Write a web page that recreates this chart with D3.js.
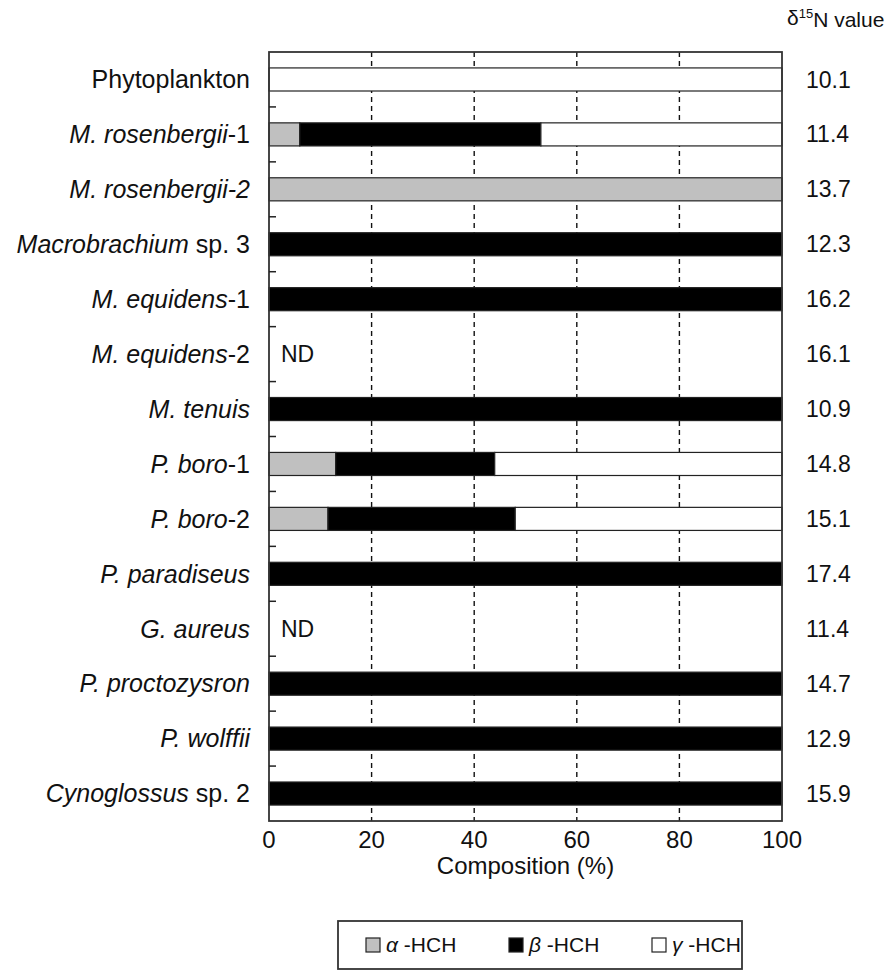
<!DOCTYPE html>
<html>
<head>
<meta charset="utf-8">
<script src="https://cdn.jsdelivr.net/npm/d3@7"></script>
<style>
  html, body { margin: 0; padding: 0; background: #fff; }
  svg { display: block; font-family: "Liberation Sans", Arial, sans-serif; fill: #111; }
</style>
</head>
<body>
<svg id="chart" width="885" height="979"></svg>
<script>
// Species (top to bottom) and how each one's label is set in type
const species = [
  "Phytoplankton", "M. rosenbergii-1", "M. rosenbergii-2", "Macrobrachium sp. 3",
  "M. equidens-1", "M. equidens-2", "M. tenuis", "P. boro-1", "P. boro-2",
  "P. paradiseus", "G. aureus", "P. proctozysron", "P. wolffii", "Cynoglossus sp. 2"
];
// label pieces: [italic part, upright part]
const labelParts = [
  ["", "Phytoplankton"], ["M. rosenbergii", "-1"], ["M. rosenbergii-2", ""],
  ["Macrobrachium", " sp. 3"], ["M. equidens", "-1"], ["M. equidens", "-2"],
  ["M. tenuis", ""], ["P. boro", "-1"], ["P. boro", "-2"], ["P. paradiseus", ""],
  ["G. aureus", ""], ["P. proctozysron", ""], ["P. wolffii", ""], ["Cynoglossus", " sp. 2"]
];

// HCH isomer composition (%), null = not detected
const alphaHCH = [0, 6, 100, 0, 0, null, 0, 13, 11.5, 0, null, 0, 0, 0];
const betaHCH  = [0, 47, 0, 100, 100, null, 100, 31, 36.5, 100, null, 100, 100, 100];
const gammaHCH = [100, 47, 0, 0, 0, null, 0, 56, 52, 0, null, 0, 0, 0];

// δ15N values for each species
const d15N = ["10.1", "11.4", "13.7", "12.3", "16.2", "16.1", "10.9", "14.8", "15.1", "17.4", "11.4", "14.7", "12.9", "15.9"];

const xTicks = [0, 20, 40, 60, 80, 100];
const isomers = ["α", "β", "γ"];
const isomerFill = ["#c0c0c0", "#000000", "#ffffff"];

const svg = d3.select("#chart");
const pL = 269, pR = 782, pT = 52, pB = 821;

const x = d3.scaleLinear().domain([0, 100]).range([pL, pR]);
const y = d3.scaleBand().domain(species).range([pT, pB])
  .paddingInner(0.58).paddingOuter(0.29);

// dashed vertical gridlines
svg.append("g").selectAll("line")
  .data(xTicks.filter(t => t > 0 && t < 100))
  .join("line")
  .attr("x1", d => x(d)).attr("x2", d => x(d))
  .attr("y1", pT).attr("y2", pB)
  .attr("stroke", "#111").attr("stroke-width", 1.4)
  .attr("stroke-dasharray", "5,4");

// stacked bars
const rows = species.map((s, i) => {
  if (alphaHCH[i] === null) return null;
  const vals = [alphaHCH[i], betaHCH[i], gammaHCH[i]];
  let acc = 0;
  return vals.map((v, k) => {
    const seg = { s, k, x0: acc, x1: acc + v };
    acc += v;
    return seg;
  }).filter(d => d.x1 > d.x0);
}).filter(r => r !== null).flat();

svg.append("g").selectAll("rect")
  .data(rows)
  .join("rect")
  .attr("x", d => x(d.x0))
  .attr("width", d => x(d.x1) - x(d.x0))
  .attr("y", d => y(d.s))
  .attr("height", y.bandwidth())
  .attr("fill", d => isomerFill[d.k])
  .attr("stroke", "#222").attr("stroke-width", 1.2);

// ND markers
svg.append("g").selectAll("text")
  .data(species.filter((s, i) => alphaHCH[i] === null))
  .join("text")
  .attr("x", pL + 12)
  .attr("y", d => y(d) + y.bandwidth() / 2)
  .attr("dy", "0.35em")
  .attr("font-size", 23)
  .text("ND");

// plot frame
svg.append("rect")
  .attr("x", pL).attr("y", pT)
  .attr("width", pR - pL).attr("height", pB - pT)
  .attr("fill", "none").attr("stroke", "#333").attr("stroke-width", 1.8);

// inward ticks at row boundaries on the left axis
const step = y.step();
svg.append("g").selectAll("line")
  .data(d3.range(1, species.length))
  .join("line")
  .attr("x1", pL).attr("x2", pL + 7)
  .attr("y1", i => pT + step * i).attr("y2", i => pT + step * i)
  .attr("stroke", "#222").attr("stroke-width", 1.5);

// species labels
const lab = svg.append("g").selectAll("text")
  .data(species.map((s, i) => ({ s, parts: labelParts[i] })))
  .join("text")
  .attr("x", 250)
  .attr("y", d => y(d.s) + y.bandwidth() / 2)
  .attr("dy", "0.35em")
  .attr("text-anchor", "end")
  .attr("font-size", 25);
lab.each(function(d) {
  const t = d3.select(this);
  if (d.parts[0]) t.append("tspan").attr("font-style", "italic").text(d.parts[0]);
  if (d.parts[1]) t.append("tspan").text(d.parts[1]);
});

// x axis tick labels
svg.append("g").selectAll("text")
  .data(xTicks)
  .join("text")
  .attr("x", d => x(d))
  .attr("y", 840)
  .attr("dy", "0.35em")
  .attr("text-anchor", "middle")
  .attr("font-size", 24)
  .text(d => d);

svg.append("text")
  .attr("x", (pL + pR) / 2)
  .attr("y", 866)
  .attr("dy", "0.35em")
  .attr("text-anchor", "middle")
  .attr("font-size", 24)
  .text("Composition (%)");

// δ15N column
const hdr = svg.append("text")
  .attr("x", 787).attr("y", 18).attr("dy", "0.35em")
  .attr("font-size", 21);
hdr.append("tspan").text("δ");
hdr.append("tspan").attr("font-size", 13).attr("dy", "-0.55em").text("15");
hdr.append("tspan").attr("dy", "0.4em").text("N value");

svg.append("g").selectAll("text")
  .data(species.map((s, i) => ({ s, v: d15N[i] })))
  .join("text")
  .attr("x", 806)
  .attr("y", d => y(d.s) + y.bandwidth() / 2)
  .attr("dy", "0.35em")
  .attr("font-size", 23)
  .text(d => d.v);

// legend
const lg = svg.append("g");
lg.append("rect")
  .attr("x", 338).attr("y", 921).attr("width", 404).attr("height", 48)
  .attr("fill", "#fff").attr("stroke", "#333").attr("stroke-width", 1.8);
const legX = [366, 509, 652];
isomers.forEach((g, k) => {
  lg.append("rect")
    .attr("x", legX[k]).attr("y", 938).attr("width", 14).attr("height", 14)
    .attr("fill", isomerFill[k]).attr("stroke", "#222").attr("stroke-width", 1.2);
  const t = lg.append("text")
    .attr("x", legX[k] + 20).attr("y", 945).attr("dy", "0.35em")
    .attr("font-size", 21);
  t.append("tspan").attr("font-style", "italic").text(g);
  t.append("tspan").text(" -HCH");
});
</script>
</body>
</html>
